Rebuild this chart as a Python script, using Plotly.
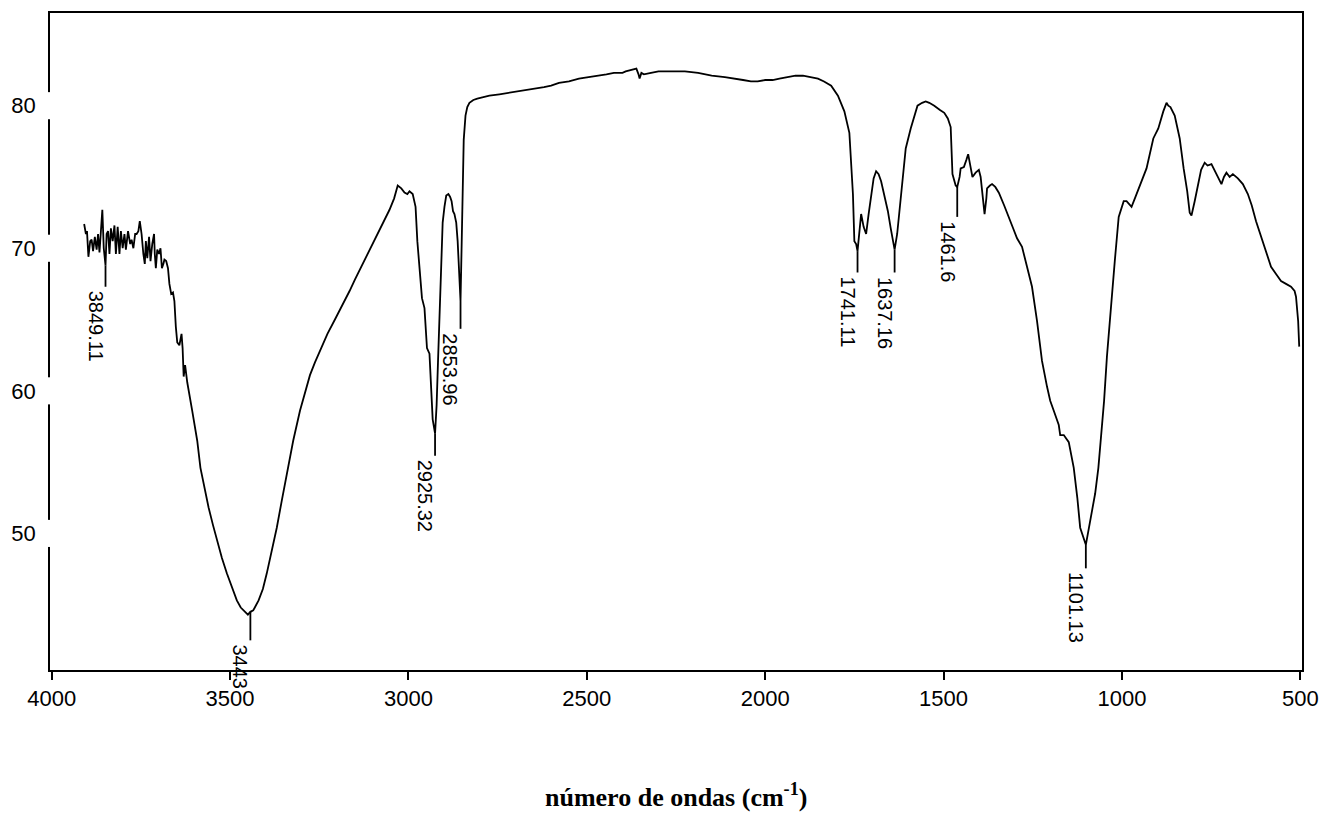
import plotly.graph_objects as go

# ---------------- data ----------------
wavenumber = [
    3909, 3904, 3901, 3897, 3892, 3888, 3884, 3879, 3874, 3870, 3866, 3862, 3858, 3854, 3851, 3849.11,
    3846, 3842, 3838, 3834, 3829, 3824, 3820, 3815, 3810, 3806, 3801, 3796, 3792, 3786, 3780, 3776,
    3771, 3766, 3762, 3757, 3753, 3748, 3743, 3739, 3736, 3732, 3727, 3723, 3718, 3713, 3711, 3708,
    3704, 3699, 3695, 3691, 3687, 3684, 3679, 3674, 3670, 3665, 3660, 3656, 3652, 3648, 3642, 3636,
    3633, 3630, 3626, 3620, 3606, 3592, 3583, 3571, 3560, 3548, 3537, 3523, 3509, 3495, 3481, 3470,
    3458, 3450, 3443, 3435, 3420, 3408, 3397, 3383, 3369, 3355, 3341, 3323, 3304, 3290, 3276, 3262,
    3248, 3227, 3206, 3185, 3165, 3150, 3136, 3122, 3108, 3095, 3081, 3067, 3053, 3040, 3030, 3020,
    3011, 3003, 2997, 2988, 2980, 2975, 2969, 2962, 2955, 2948, 2941, 2936, 2932, 2925.32, 2921, 2917,
    2912, 2909, 2904, 2899, 2894, 2888, 2883, 2879, 2875, 2871, 2866, 2862, 2858, 2853.96, 2851, 2848,
    2845, 2840, 2835, 2829, 2818, 2807, 2790, 2773, 2745, 2717, 2690, 2662, 2640, 2620, 2600, 2578,
    2550, 2522, 2495, 2466, 2445, 2424, 2400, 2391, 2375, 2369, 2361, 2355, 2352, 2347, 2340, 2320,
    2299, 2260, 2225, 2188, 2150, 2113, 2080, 2062, 2040, 2021, 2000, 1979, 1960, 1937, 1915, 1894,
    1875, 1852, 1835, 1815, 1796, 1778, 1764, 1759, 1754, 1750, 1745, 1741.11, 1736, 1731, 1724, 1717,
    1710, 1703, 1696, 1689, 1682, 1675, 1665, 1656, 1648, 1642, 1637.16, 1630, 1624, 1615, 1606, 1592,
    1582, 1573, 1560, 1550, 1540, 1526, 1510, 1498, 1488, 1480, 1475, 1466, 1461.6, 1455, 1452, 1443,
    1436, 1431, 1425, 1419, 1410, 1401, 1396, 1392, 1385, 1380, 1378, 1370, 1364, 1355, 1345, 1330,
    1317, 1305, 1294, 1280, 1266, 1252, 1238, 1224, 1210, 1201, 1191, 1177, 1173, 1163, 1149, 1135,
    1125, 1117, 1101.13, 1089, 1075, 1066, 1057, 1050, 1042, 1028, 1020, 1009, 995, 987, 973, 962,
    949, 931, 912, 898, 884, 875, 870, 864, 852, 838, 827, 817, 810, 805, 796, 786,
    778, 768, 760, 749, 735, 721, 714, 707, 698, 689, 675, 661, 647, 636, 624, 610,
    596, 582, 568, 554, 540, 526, 516, 512, 506, 503,
]

transmittance = [
    71.7, 71.0, 71.2, 69.4, 70.5, 70.6, 69.8, 70.8, 69.9, 71.0, 69.7, 71.2, 72.7, 70.0, 68.9, 68.8,
    71.0, 71.2, 69.6, 71.4, 70.5, 71.6, 69.6, 71.5, 69.6, 71.2, 70.0, 71.0, 69.9, 71.2, 70.3, 70.6,
    70.0, 71.0, 71.0, 71.2, 71.9, 71.0, 69.6, 68.9, 70.5, 69.3, 70.8, 69.1, 70.3, 71.0, 69.6, 68.6,
    69.9, 69.6, 70.0, 68.6, 68.9, 69.2, 69.1, 68.6, 67.5, 66.8, 66.9, 66.3, 64.5, 63.4, 63.2, 64.0,
    63.0, 61.0, 61.8, 60.6, 58.6, 56.5, 54.6, 53.0, 51.8, 50.6, 49.5, 48.3, 47.2, 46.2, 45.3, 44.8,
    44.5, 44.3, 44.5, 44.6, 45.3, 46.1, 47.2, 48.7, 50.4, 52.3, 54.2, 56.5, 58.6, 59.9, 61.1, 62.0,
    62.8, 64.0, 65.0, 66.0, 67.0, 67.8, 68.5, 69.2, 69.9, 70.6, 71.3, 72.0, 72.7, 73.5, 74.4, 74.2,
    73.9, 73.8, 74.0, 73.8, 72.9, 70.5, 68.9, 66.5, 65.8, 63.0, 62.6, 59.5, 58.0, 57.0, 59.0, 62.1,
    66.3, 69.1, 71.8, 72.9, 73.7, 73.8, 73.6, 73.3, 72.6, 72.4, 71.8, 70.5, 68.5, 66.3, 70.0, 74.5,
    77.6, 79.3, 79.9, 80.2, 80.4, 80.5, 80.6, 80.7, 80.8, 80.9, 81.0, 81.1, 81.2, 81.3, 81.4, 81.6,
    81.7, 81.9, 82.0, 82.1, 82.2, 82.3, 82.3, 82.4, 82.5, 82.5, 82.6, 82.2, 81.9, 82.3, 82.2, 82.3,
    82.4, 82.4, 82.4, 82.3, 82.1, 82.0, 81.9, 81.8, 81.7, 81.7, 81.8, 81.8, 81.9, 82.0, 82.1, 82.1,
    82.0, 81.9, 81.7, 81.4, 80.7, 79.6, 78.1, 76.1, 73.8, 70.5, 70.3, 69.8, 71.2, 72.4, 71.5, 71.0,
    72.4, 73.8, 74.9, 75.4, 75.2, 74.7, 73.6, 72.6, 71.4, 70.5, 69.9, 71.0, 72.6, 74.8, 77.0, 78.4,
    79.3, 80.0, 80.2, 80.3, 80.2, 80.0, 79.7, 79.5, 79.1, 78.5, 75.2, 74.4, 74.3, 75.0, 75.6, 75.7,
    76.2, 76.6, 75.8, 75.0, 75.3, 75.5, 75.0, 74.2, 72.4, 73.5, 74.2, 74.4, 74.5, 74.3, 73.9, 73.0,
    72.1, 71.4, 70.7, 70.1, 68.7, 67.3, 64.9, 62.1, 60.3, 59.3, 58.6, 57.6, 56.9, 56.9, 56.4, 54.6,
    52.5, 50.4, 49.2, 50.9, 52.8, 54.6, 57.0, 59.3, 62.4, 66.3, 69.1, 72.2, 73.3, 73.3, 72.9, 73.6,
    74.5, 75.6, 77.7, 78.4, 79.6, 80.2, 80.0, 79.9, 79.3, 77.7, 75.6, 74.0, 72.5, 72.3, 73.3, 74.5,
    75.5, 76.0, 75.8, 75.9, 75.2, 74.5, 75.0, 75.3, 75.0, 75.2, 74.9, 74.5, 73.8, 73.0, 71.9, 70.8,
    69.8, 68.7, 68.2, 67.7, 67.5, 67.3, 67.0, 66.6, 64.9, 63.1,
]

# labelled bands: position, label text, end value of the marker line
peak_wn = [3849.11, 3443, 2925.32, 2853.96, 1741.11, 1637.16, 1461.6, 1101.13]
peak_label = ["3849.11", "3443", "2925.32", "2853.96", "1741.11", "1637.16", "1461.6", "1101.13"]
peak_tail = [67.3, 42.5, 55.45, 64.35, 68.3, 68.3, 72.2, 47.55]

x_ticks = [4000, 3500, 3000, 2500, 2000, 1500, 1000, 500]
y_ticks = [50, 60, 70, 80]

# ---------------- figure ----------------
fig = go.Figure()

fig.add_trace(go.Scatter(
    x=wavenumber, y=transmittance, mode="lines",
    line=dict(color="black", width=1.8), hoverinfo="skip", showlegend=False,
))

# marker lines under each labelled band
lookup = dict(zip(wavenumber, transmittance))
mx, my = [], []
for w, t in zip(peak_wn, peak_tail):
    mx += [w, w, None]
    my += [lookup[w], t, None]
fig.add_trace(go.Scatter(
    x=mx, y=my, mode="lines", line=dict(color="black", width=1.8),
    hoverinfo="skip", showlegend=False,
))

for w, t, lab in zip(peak_wn, peak_tail, peak_label):
    fig.add_annotation(
        x=w, y=t, xref="x", yref="y", text=lab, showarrow=False,
        textangle=90, xanchor="center", yanchor="top", xshift=-10, yshift=-2,
        font=dict(family="Liberation Sans, Arial, sans-serif", size=20, color="black"),
    )

# gaps in the left axis line around the y tick labels
for t in y_ticks:
    fig.add_shape(
        type="rect", xref="paper", yref="y", x0=-0.006, x1=0.006,
        y0=t - 0.95, y1=t + 0.95, fillcolor="white", line=dict(width=0),
        layer="above",
    )

fig.add_annotation(
    x=0.5, y=-0.191, xref="paper", yref="paper", showarrow=False,
    text="<b>número de ondas (cm<sup>-1</sup>)</b>", xanchor="center", yanchor="middle",
    font=dict(family="Liberation Serif, Times New Roman, serif", size=26, color="black"),
)

fig.update_layout(
    width=1330, height=825,
    margin=dict(l=49, r=24, t=11, b=155),
    paper_bgcolor="white", plot_bgcolor="white",
    font=dict(family="Liberation Sans, Arial, sans-serif", size=22, color="black"),
    xaxis=dict(
        range=[4004.7, 495.2], tickvals=x_ticks, ticktext=[str(v) for v in x_ticks],
        showgrid=False, zeroline=False, showline=True, linecolor="black", linewidth=1.6,
        mirror=True, ticks="outside", ticklen=8, tickwidth=1.6, tickcolor="black",
        tickfont=dict(size=22),
    ),
    yaxis=dict(
        range=[40.42, 86.5], tickvals=y_ticks, ticktext=[str(v) for v in y_ticks],
        showgrid=False, zeroline=False, showline=True, linecolor="black", linewidth=1.6,
        mirror=True, ticks="", ticklabelstandoff=8, tickfont=dict(size=22),
    ),
)

fig.write_html("out.html")
